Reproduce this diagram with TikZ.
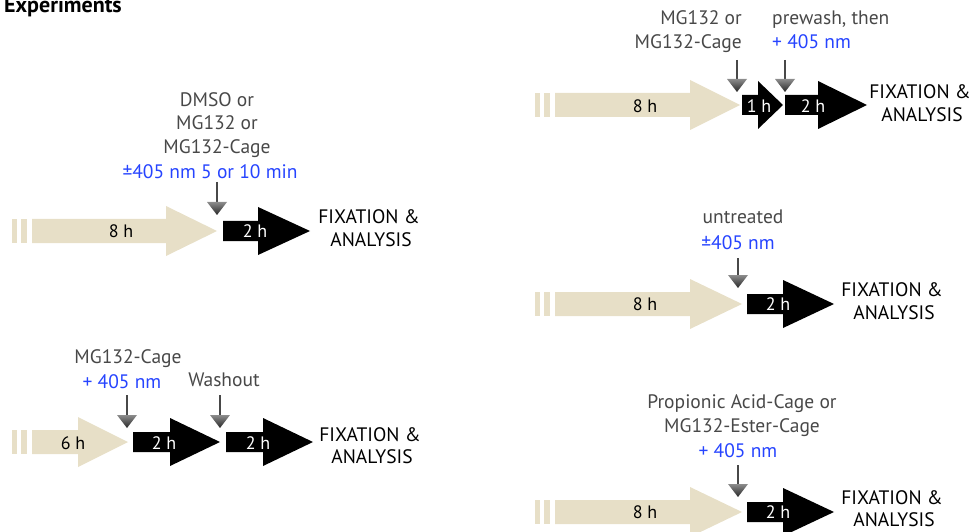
\documentclass[tikz,border=0pt]{standalone}
\usepackage{fontspec}
\setmainfont{PT Sans}
\definecolor{beige}{RGB}{231,223,199}
\definecolor{txtgray}{RGB}{72,72,72}
\definecolor{lblue}{RGB}{38,68,255}
\tikzset{
  lbl/.style={font=\fontsize{19.5}{22}\selectfont, text=txtgray, inner sep=0pt, anchor=base, yshift=-6.5pt},
  blbl/.style={lbl, text=lblue},
  fixlbl/.style={lbl, text=black},
  inw/.style={lbl, text=white, font=\fontsize{18}{20}\selectfont},
  inb/.style={lbl, text=black, font=\fontsize{18}{20}\selectfont},
  stem/.style={draw=txtgray, line width=1.3pt},
  tri/.style={top color=black!45, bottom color=black!85}
}
% beige arrow: body start, head start, tip, centre y
\newcommand\beigearrow[4]{%
  \fill[beige] (#1,#4-12) -- (#2,#4-12) -- (#2,#4-25) -- (#3,#4) -- (#2,#4+25) -- (#2,#4+12) -- (#1,#4+12) -- cycle;
  \fill[beige] (#1-20,#4-12) rectangle (#1-15,#4+12);
  \fill[beige] (#1-11,#4-12) rectangle (#1-5,#4+12);}
% black arrow: body start, head start, tip, centre y
\newcommand\blackarrow[4]{%
  \fill[black] (#1,#4-10) -- (#2,#4-10) -- (#2,#4-24) -- (#3,#4) -- (#2,#4+24) -- (#2,#4+10) -- (#1,#4+10) -- cycle;}
% down arrow: name, x, top y, tip y
\newcommand\downarr[4]{%
  \coordinate (#1) at (#2,#3);
  \coordinate (#1t) at (#2,#4);
  \draw[stem] (#1) -- (#2,#4-12);
  \shade[tri] (#2-10,#4-13) -- (#2+10,#4-13) -- (#1t) -- cycle;}
\begin{document}
\begin{tikzpicture}[x=1pt,y=-1pt]
\useasboundingbox (0,0) rectangle (970,532);

% title
\node[inner sep=0pt, text=black, font=\fontsize{22}{24}\selectfont\bfseries, anchor=base west] (title) at (4,12.5) {Experiments};

% ---------- panel 1 ----------
\beigearrow{32}{166}{217}{231}
\blackarrow{223}{258}{310}{231}
\node[inb] (p1a) at (121,231) {8 h};
\node[inw] (p1b) at (255,231) {2 h};
\downarr{d1}{217}{182}{215}
\node[lbl] (p1l1) at (217,100) {DMSO or};
\node[lbl] (p1l2) at (217,123) {MG132 or};
\node[lbl] (p1l3) at (217,147) {MG132-Cage};
\node[blbl] (p1l4) at (210,172) {±405 nm 5 or 10 min};
\node[fixlbl] (p1f1) at (369,217) {FIXATION \&};
\node[fixlbl] (p1f2) at (371,240) {ANALYSIS};

% ---------- panel 2 ----------
\beigearrow{32}{78}{128}{442}
\blackarrow{133}{170}{220}{442}
\blackarrow{226}{263}{313}{442}
\node[inb] (p2a) at (73,443) {6 h};
\node[inw] (p2b) at (164,443) {2 h};
\node[inw] (p2c) at (258,443) {2 h};
\downarr{d2}{127}{395}{428}
\downarr{d3}{220}{395}{428}
\node[lbl] (p2l1) at (128,357) {MG132-Cage};
\node[blbl] (p2l2) at (122,382) {+ 405 nm};
\node[lbl] (p2l3) at (224,380) {Washout};
\node[fixlbl] (p2f1) at (370,435) {FIXATION \&};
\node[fixlbl] (p2f2) at (372,457) {ANALYSIS};

% ---------- panel 3 ----------
\beigearrow{555}{690}{740}{105}
\blackarrow{742}{758}{783}{105}
\blackarrow{785}{818}{867}{105}
\node[inb] (p3a) at (645,106) {8 h};
\node[inw] (p3b) at (759,106) {1 h};
\node[inw] (p3c) at (813,106) {2 h};
\downarr{d4}{737}{60}{92}
\downarr{d5}{785}{60}{92}
\node[lbl, anchor=base east] (p3l1) at (742,18) {MG132 or};
\node[lbl, anchor=base east] (p3l2) at (742,42) {MG132-Cage};
\node[lbl, anchor=base west] (p3l3) at (772,18) {prewash, then};
\node[blbl, anchor=base west] (p3l4) at (772,42) {+ 405 nm};
\node[fixlbl] (p3f1) at (920,92) {FIXATION \&};
\node[fixlbl] (p3f2) at (922,115) {ANALYSIS};

% ---------- panel 4 ----------
\beigearrow{555}{690}{742}{304}
\blackarrow{747}{783}{834}{304}
\node[inb] (p4a) at (645,304) {8 h};
\node[inw] (p4b) at (778,304) {2 h};
\downarr{d6}{738}{258}{288}
\node[lbl] (p4l1) at (743,217) {untreated};
\node[blbl] (p4l2) at (738,243) {±405 nm};
\node[fixlbl] (p4f1) at (892,290) {FIXATION \&};
\node[fixlbl] (p4f2) at (894,313) {ANALYSIS};

% ---------- panel 5 ----------
\beigearrow{555}{690}{742}{512}
\blackarrow{747}{783}{834}{512}
\node[inb] (p5a) at (645,512) {8 h};
\node[inw] (p5b) at (778,512) {2 h};
\downarr{d7}{738}{465}{497}
\node[lbl] (p5l1) at (742,402) {Propionic Acid-Cage or};
\node[lbl] (p5l2) at (742,426) {MG132-Ester-Cage};
\node[blbl] (p5l3) at (738,451) {+ 405 nm};
\node[fixlbl] (p5f1) at (892,498) {FIXATION \&};
\node[fixlbl] (p5f2) at (894,520) {ANALYSIS};
\end{tikzpicture}
\end{document}
